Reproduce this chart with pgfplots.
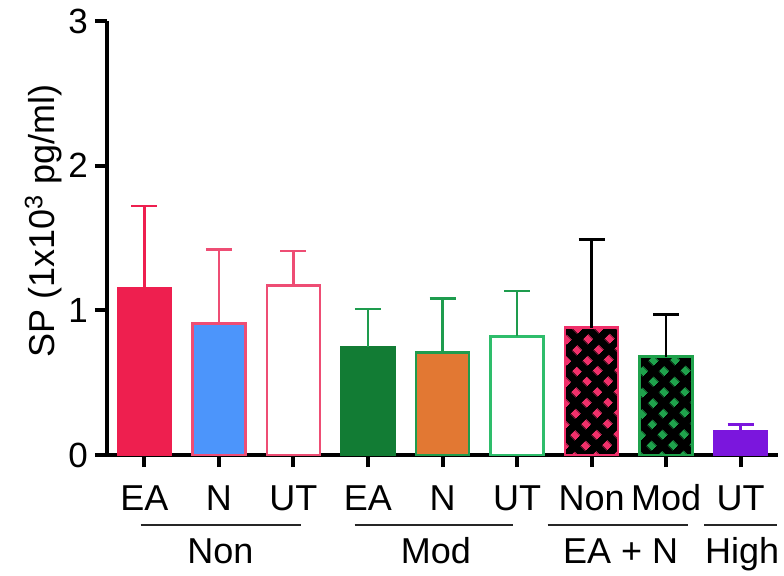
\documentclass[border=0pt]{standalone}
\usepackage{fontspec}
\setmainfont{Liberation Sans}
\usepackage{pgfplots}
\pgfplotsset{compat=1.18}
\usetikzlibrary{patterns.meta}
\tikzdeclarepattern{name=diamondgrid, type=uncolored,
  bottom left={(0pt,0pt)}, top right={(7.8pt,7.8pt)}, tile size={(7.8pt,7.8pt)},
  tile transformation={rotate=45},
  code={\fill (1.95pt,1.95pt) rectangle (5.85pt,5.85pt);}}
\definecolor{cEA}{HTML}{EE1F4F}
\definecolor{cPinkLine}{HTML}{EE4D74}
\definecolor{cBlue}{HTML}{4C95FB}
\definecolor{cDGreen}{HTML}{127C34}
\definecolor{cOrange}{HTML}{E27833}
\definecolor{cGreenLine}{HTML}{1E9C4E}
\definecolor{cLGreen}{HTML}{2EBD6B}
\definecolor{cPurple}{HTML}{7B16DD}
\definecolor{cPatPink}{HTML}{F0306A}
\definecolor{cPatGreen}{HTML}{1FA24C}
\pgfplotsset{
  ebar/.style={error bars/.cd, y dir=plus, y explicit,
    error bar style={line width=1.3pt,#1},
    error mark options={rotate=90,mark size=6.5pt,line width=1.3pt,#1}},
  mybar/.style={ybar, bar width=0.71, line width=1.3pt},
}
\newcommand{\lab}{\fontsize{18}{21}\selectfont}
\begin{document}
\begin{tikzpicture}
\begin{axis}[
  name=ax,
  scale only axis, width=335.5pt, height=217pt,
  xmin=-0.5, xmax=8.5, ymin=0, ymax=3,
  axis x line*=bottom, axis y line*=left,
  axis line style={line width=2pt,-},
  xtick={0,...,8}, xticklabels={EA,N,UT,EA,N,UT,Non,Mod,UT},
  ytick={0,1,2,3},
  tick align=outside, major tick length=6pt,
  tick style={line width=2pt, black},
  xticklabel style={font=\lab, anchor=base, yshift=-21.5pt},
  yticklabel style={font=\fontsize{17.5}{20}\selectfont, /pgf/number format/assume math mode=true},
  ylabel={SP (1x10\textsuperscript{3} pg/ml)},
  ylabel style={font=\lab, at={(rel axis cs:-0.0775,0.54)}, anchor=base},
  clip=false,
]
\addplot[mybar, fill=cEA, draw=cEA, ebar=cEA] coordinates {(0,1.15) +- (0,0.57)};
\addplot[mybar, fill=cBlue, draw=cPinkLine, ebar=cPinkLine] coordinates {(1,0.91) +- (0,0.51)};
\addplot[mybar, fill=white, draw=cPinkLine, ebar=cPinkLine] coordinates {(2,1.17) +- (0,0.24)};
\addplot[mybar, fill=cDGreen, draw=cDGreen, ebar=cGreenLine] coordinates {(3,0.745) +- (0,0.265)};
\addplot[mybar, fill=cOrange, draw=cGreenLine, ebar=cGreenLine] coordinates {(4,0.71) +- (0,0.37)};
\addplot[mybar, fill=white, draw=cLGreen, ebar=cGreenLine] coordinates {(5,0.82) +- (0,0.315)};
\addplot[mybar, fill=black, draw=cPatPink, postaction={pattern=diamondgrid, pattern color=cPatPink}, ebar=black] coordinates {(6,0.88) +- (0,0.61)};
\addplot[mybar, fill=black, draw=cPatGreen, postaction={pattern=diamondgrid, pattern color=cPatGreen}, ebar=black] coordinates {(7,0.68) +- (0,0.29)};
\addplot[mybar, fill=cPurple, draw=cPurple, ebar=cPurple] coordinates {(8,0.166) +- (0,0.045)};
% group annotations
\draw[line width=1pt, black!85] ([yshift=-35pt]axis cs:-0.05,0) -- ([yshift=-35pt]axis cs:2.1,0);
\draw[line width=1pt, black!85] ([yshift=-35pt]axis cs:2.82,0) -- ([yshift=-35pt]axis cs:4.95,0);
\draw[line width=1pt, black!85] ([yshift=-35pt]axis cs:5.41,0) -- ([yshift=-35pt]axis cs:7.29,0);
\draw[line width=1pt, black!85] ([yshift=-35pt]axis cs:7.51,0) -- ([yshift=-35pt]axis cs:8.49,0);
\node[font=\lab, anchor=base] at ([yshift=-54pt]axis cs:1.02,0) {Non};
\node[font=\lab, anchor=base] at ([yshift=-54pt]axis cs:3.91,0) {Mod};
\node[font=\lab, anchor=base] at ([yshift=-54pt]axis cs:6.39,0) {EA + N};
\node[font=\lab, anchor=base] at ([yshift=-54pt]axis cs:8.02,0) {High};
\end{axis}
\pgfresetboundingbox
\path ([shift={(-53.5pt,-60.5pt)}]ax.south west) rectangle ([shift={(3pt,10.5pt)}]ax.north east);
\end{tikzpicture}
\end{document}
